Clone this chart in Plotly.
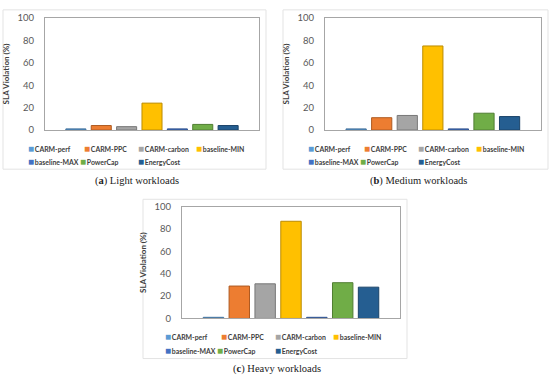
import plotly.graph_objects as go

# ---- data ----
series = ["CARM-perf", "CARM-PPC", "CARM-carbon", "baseline-MIN",
          "baseline-MAX", "PowerCap", "EnergyCost"]
light = [1, 4, 3, 24, 1, 5, 4]
medium = [1, 11, 13, 75, 1, 15, 12]
heavy = [1, 29, 31, 87, 1, 32, 28]
panels = [light, medium, heavy]
captions = ["(<b>a</b>) Light workloads", "(<b>b</b>) Medium workloads",
            "(<b>c</b>) Heavy workloads"]
y_ticks = [0, 20, 40, 60, 80, 100]
category = ["SLA"]

# ---- style ----
colors = ["#5B9BD5", "#ED7D31", "#A5A5A5", "#FFC000", "#4472C4", "#70AD47", "#255E91"]
outlines = ["#41719C", "#AE5A21", "#787878", "#BC8C00", "#2F528F", "#507E32", "#1A4369"]

W, H = 550, 382
# plot areas in pixels: (left, right, top, bottom)
areas = [(45, 259, 12.3, 127.7), (325, 540.7, 12.3, 127.7), (182, 400, 206.7, 321.7)]
# outer frames in pixels
frames = [(3, 266, 4, 168), (283, 548, 4, 168), (143, 407, 199, 363)]
caption_pos = [(136.5, 180), (418.5, 180), (277, 374)]
legend_rows = [[0, 1, 2, 3], [4, 5, 6]]
legend_dx = [[-19, 36.5, 91, 149], [-19, 33, 91]]
legend_dy = [18, 32]

def px(x):
    return x / W

def py(y):
    return 1 - y / H

fig = go.Figure()
annotations = []
shapes = []
for p, vals in enumerate(panels):
    xa = "x" if p == 0 else f"x{p+1}"
    ya = "y" if p == 0 else f"y{p+1}"
    for i, name in enumerate(series):
        fig.add_trace(go.Bar(
            x=category, y=[vals[i]], name=name, xaxis=xa, yaxis=ya,
            marker=dict(color=colors[i], line=dict(color=outlines[i], width=1)),
            showlegend=False))
    l, r, t, b = areas[p]
    axis_suffix = "" if p == 0 else str(p + 1)
    fig.layout["xaxis" + axis_suffix] = dict(
        domain=[px(l), px(r)], anchor=ya, showticklabels=False, showgrid=False,
        showline=True, mirror=True, linecolor="#A6A6A6", linewidth=1, ticks="",
        zeroline=False, fixedrange=True)
    fig.layout["yaxis" + axis_suffix] = dict(
        domain=[py(b), py(t)], anchor=xa, range=[0, 100], tickvals=y_ticks,
        showgrid=False, showline=True, mirror=True, linecolor="#A6A6A6", linewidth=1,
        ticks="", zeroline=False, ticklabelstandoff=8,
        tickfont=dict(family="Lato", size=9.5, color="#595959"),
        title=dict(text="<b>SLA Violation (%)</b>", standoff=6,
                   font=dict(family="Lato", size=8, color="#404040")))
    # frame
    fl, fr, ft, fb = frames[p]
    shapes.append(dict(type="rect", xref="paper", yref="paper",
                       x0=px(fl), x1=px(fr), y0=py(fb), y1=py(ft),
                       line=dict(color="#E3E3E3", width=1), layer="below"))
    # legend
    for row, idxs in enumerate(legend_rows):
        for k, i in enumerate(idxs):
            annotations.append(dict(
                xref="paper", yref="paper", x=px(l + legend_dx[row][k]),
                y=py(b + legend_dy[row]), xanchor="left", yanchor="middle",
                showarrow=False,
                text=f"<span style='color:{colors[i]};font-size:10px'>■</span>"
                     f"<span style='font-size:3px'> </span>"
                     f"<b>{series[i]}</b>",
                font=dict(family="Lato", size=6.9, color="#404040")))
    cx, cy = caption_pos[p]
    annotations.append(dict(xref="paper", yref="paper", x=px(cx), y=py(cy),
                            xanchor="center", yanchor="middle", showarrow=False,
                            text=captions[p],
                            font=dict(family="Liberation Serif", size=10.5, color="#222222")))

fig.update_layout(
    width=W, height=H, margin=dict(l=0, r=0, t=0, b=0),
    paper_bgcolor="white", plot_bgcolor="white",
    barmode="group", bargap=0.17, bargroupgap=0.21,
    annotations=annotations, shapes=shapes, showlegend=False)

fig.write_html("out.html", config={"displayModeBar": False},
               post_script="document.body.style.margin='0';")
